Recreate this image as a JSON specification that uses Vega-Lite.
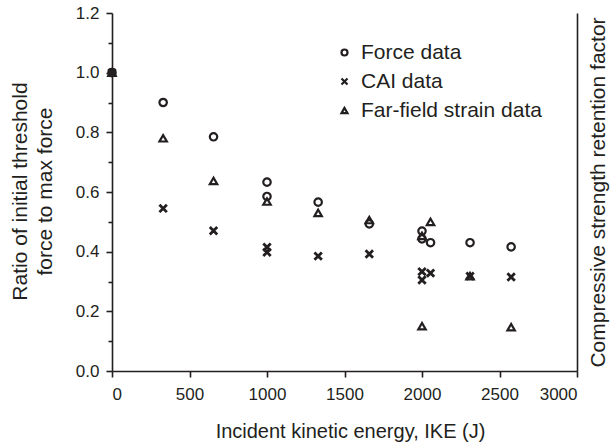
{
  "$schema": "https://vega.github.io/schema/vega-lite/v6.json",
  "autosize": {"type": "none"},
  "padding": {"left": 112, "top": 13, "right": 33, "bottom": 71},
  "width": 465,
  "height": 358,
  "config": {
    "font": "Liberation Sans",
    "view": {"stroke": null},
    "axis": {"grid": false, "domainColor": "#231f20", "tickColor": "#231f20", "labelColor": "#231f20", "titleColor": "#231f20", "domainWidth": 1.6, "tickWidth": 1.6, "labelFontSize": 17, "titleFontSize": 20, "titleFontWeight": "normal"}
  },
  "data": {"values": [
    {"series": "Force data", "x": 0, "y": 1.0},
    {"series": "Force data", "x": 330, "y": 0.90},
    {"series": "Force data", "x": 655, "y": 0.785},
    {"series": "Force data", "x": 1000, "y": 0.633},
    {"series": "Force data", "x": 1000, "y": 0.585},
    {"series": "Force data", "x": 1330, "y": 0.566},
    {"series": "Force data", "x": 1660, "y": 0.493},
    {"series": "Force data", "x": 2000, "y": 0.469},
    {"series": "Force data", "x": 2000, "y": 0.443},
    {"series": "Force data", "x": 2055, "y": 0.43},
    {"series": "Force data", "x": 2310, "y": 0.43},
    {"series": "Force data", "x": 2575, "y": 0.416},
    {"series": "CAI data", "x": 0, "y": 1.0},
    {"series": "CAI data", "x": 330, "y": 0.545},
    {"series": "CAI data", "x": 655, "y": 0.47},
    {"series": "CAI data", "x": 1000, "y": 0.415},
    {"series": "CAI data", "x": 1000, "y": 0.398},
    {"series": "CAI data", "x": 1330, "y": 0.385},
    {"series": "CAI data", "x": 1660, "y": 0.392},
    {"series": "CAI data", "x": 2000, "y": 0.333},
    {"series": "CAI data", "x": 2000, "y": 0.305},
    {"series": "CAI data", "x": 2055, "y": 0.328},
    {"series": "CAI data", "x": 2310, "y": 0.318},
    {"series": "CAI data", "x": 2575, "y": 0.315},
    {"series": "Far-field strain data", "x": 0, "y": 1.0},
    {"series": "Far-field strain data", "x": 330, "y": 0.78},
    {"series": "Far-field strain data", "x": 655, "y": 0.637},
    {"series": "Far-field strain data", "x": 1000, "y": 0.568},
    {"series": "Far-field strain data", "x": 1330, "y": 0.53},
    {"series": "Far-field strain data", "x": 1660, "y": 0.506},
    {"series": "Far-field strain data", "x": 2000, "y": 0.453},
    {"series": "Far-field strain data", "x": 2000, "y": 0.15},
    {"series": "Far-field strain data", "x": 2055, "y": 0.5},
    {"series": "Far-field strain data", "x": 2310, "y": 0.318},
    {"series": "Far-field strain data", "x": 2575, "y": 0.147}
  ]},
  "layer": [
    {
      "mark": {"type": "point", "filled": false, "color": "#231f20", "size": 55, "opacity": 1},
      "encoding": {
        "x": {
          "field": "x", "type": "quantitative",
          "scale": {"domain": [0, 3000], "nice": false, "zero": false},
          "axis": {
            "title": "Incident kinetic energy, IKE (J)",
            "values": [0, 250, 500, 750, 1000, 1250, 1500, 1750, 2000, 2250, 2500, 2750, 3000],
            "format": "d",
            "labelExpr": "datum.value % 500 === 0 ? datum.label : ''",
            "tickSize": {"condition": {"test": "datum.value % 500 === 0", "value": 6}, "value": 4},
            "labelPadding": 9,
            "titleX": 238,
            "titleY": 66,
            "titleBaseline": "alphabetic",
            "titleAlign": "center"
          }
        },
        "y": {
          "field": "y", "type": "quantitative",
          "scale": {"domain": [0, 1.2], "nice": false, "zero": false},
          "axis": {
            "title": ["Ratio of initial threshold", "force to max force"],
            "titleFontSize": 21,
            "titleLineHeight": 25,
            "values": [0, 0.1, 0.2, 0.3, 0.4, 0.5, 0.6, 0.7, 0.8, 0.9, 1.0, 1.1, 1.2],
            "format": ".1f",
            "labelExpr": "round(datum.value * 10) % 2 === 0 ? datum.label : ''",
            "tickSize": {"condition": {"test": "round(datum.value * 10) % 2 === 0", "value": 6}, "value": 4},
            "labelPadding": 7,
            "titleX": -86,
            "titleY": 178,
            "titleAngle": -90,
            "titleBaseline": "alphabetic",
            "titleAlign": "center"
          }
        },
        "strokeWidth": {"condition": {"test": "datum.series === 'CAI data'", "value": 2.8}, "value": 2.2},
        "shape": {
          "field": "series", "type": "nominal",
          "scale": {"domain": ["Force data", "CAI data", "Far-field strain data"], "range": ["circle", "M-1,-1L1,1M1,-1L-1,1", "triangle-up"]},
          "legend": {
            "title": null,
            "orient": "none",
            "legendX": 222,
            "legendY": 29,
            "labelFontSize": 21,
            "labelLimit": 300,
            "labelColor": "#231f20",
            "symbolStrokeColor": "#231f20",
            "symbolStrokeWidth": 2.2,
            "symbolSize": 36,
            "rowPadding": 7,
            "labelOffset": 6
          }
        }
      }
    },
    {
      "mark": {"type": "point", "opacity": 0},
      "encoding": {
        "x": {"field": "x", "type": "quantitative"},
        "y": {
          "field": "y", "type": "quantitative",
          "axis": {"orient": "right", "title": "Compressive strength retention factor", "titleFontSize": 21, "ticks": false, "labels": false, "titleAngle": -90, "titleBaseline": "alphabetic", "titleAlign": "center", "titleX": 27, "titleY": 179}
        }
      }
    }
  ],
  "resolve": {"axis": {"y": "independent"}}
}
